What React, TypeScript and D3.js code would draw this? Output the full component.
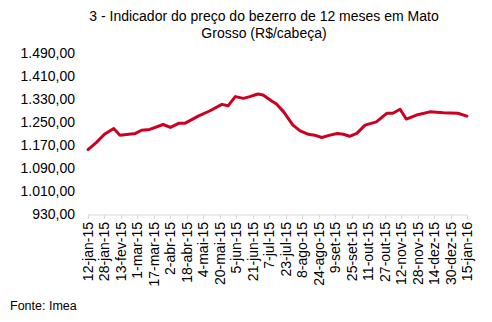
import React from "react";
import * as d3 from "d3";

const dates: string[] = [
  "2015-01-12", "2015-01-20", "2015-01-28", "2015-02-06", "2015-02-12", "2015-02-27",
  "2015-03-05", "2015-03-13", "2015-03-26", "2015-04-02", "2015-04-10", "2015-04-16",
  "2015-04-29", "2015-05-10", "2015-05-22", "2015-05-28", "2015-06-04", "2015-06-12",
  "2015-06-18", "2015-06-26", "2015-07-01", "2015-07-09", "2015-07-14", "2015-07-21",
  "2015-07-30", "2015-08-06", "2015-08-14", "2015-08-20", "2015-08-27", "2015-09-04",
  "2015-09-11", "2015-09-17", "2015-09-23", "2015-09-30", "2015-10-08", "2015-10-19",
  "2015-10-29", "2015-11-04", "2015-11-11", "2015-11-17", "2015-11-27", "2015-12-10",
  "2015-12-23", "2016-01-06", "2016-01-15",
];
const values: number[] = [
  1156, 1180, 1209, 1229, 1206, 1212,
  1223, 1226, 1243, 1233, 1247, 1247,
  1272, 1290, 1313, 1308, 1340, 1334,
  1340, 1349, 1346, 1326, 1314, 1287,
  1241, 1221, 1209, 1206, 1198, 1206,
  1212, 1209, 1202, 1212, 1241, 1252,
  1282, 1282, 1296, 1262, 1276, 1287,
  1284, 1282, 1272,
];
const tickDates: string[] = [
  "2015-01-12", "2015-01-28", "2015-02-13", "2015-03-01", "2015-03-17", "2015-04-02",
  "2015-04-18", "2015-05-04", "2015-05-20", "2015-06-05", "2015-06-21", "2015-07-07",
  "2015-07-23", "2015-08-08", "2015-08-24", "2015-09-09", "2015-09-25", "2015-10-11",
  "2015-10-27", "2015-11-12", "2015-11-28", "2015-12-14", "2015-12-30", "2016-01-15",
];
const tickLabels: string[] = [
  "12-jan-15", "28-jan-15", "13-fev-15", "1-mar-15", "17-mar-15", "2-abr-15",
  "18-abr-15", "4-mai-15", "20-mai-15", "5-jun-15", "21-jun-15", "7-jul-15",
  "23-jul-15", "8-ago-15", "24-ago-15", "9-set-15", "25-set-15", "11-out-15",
  "27-out-15", "12-nov-15", "28-nov-15", "14-dez-15", "30-dez-15", "15-jan-16",
];
const yTicks: number[] = [930, 1010, 1090, 1170, 1250, 1330, 1410, 1490];
const titleLines: string[] = [
  "3 - Indicador do preço do bezerro de 12 meses em Mato",
  "Grosso (R$/cabeça)",
];
const sourceText = "Fonte: Imea";

const parse = d3.timeParse("%Y-%m-%d");
const fmt = (v: number) => {
  const s = v.toFixed(2).replace(".", ",");
  const [i, d] = s.split(",");
  return i.replace(/\B(?=(\d{3})+(?!\d))/g, ".") + "," + d;
};

export default function App() {
  const W = 492, H = 322;
  const x = d3.scaleTime()
    .domain([parse("2015-01-12") as Date, parse("2016-01-15") as Date])
    .range([88, 467]);
  const y = d3.scaleLinear().domain([930, 1490]).range([214.5, 53.5]);
  const pts = dates.map((d, i) => ({ d: parse(d) as Date, v: values[i] }));
  const line = d3.line<{ d: Date; v: number }>()
    .x((p) => x(p.d))
    .y((p) => y(p.v));
  const font = "Arial, 'Liberation Sans', Helvetica, sans-serif";
  return (
    <svg width={W} height={H} style={{ position: "absolute", left: 0, top: 0 }} fontFamily={font}>
      <rect width={W} height={H} fill="#fff" />
      {titleLines.map((t, i) => (
        <text key={i} x={264} y={21 + i * 17} textAnchor="middle" fontSize={14} fill="#000">{t}</text>
      ))}
      {yTicks.map((v) => (
        <text key={v} x={75} y={y(v)} dy="0.35em" textAnchor="end" fontSize={14} fill="#000">{fmt(v)}</text>
      ))}
      <line x1={88} x2={467} y1={215} y2={215} stroke="#d9d9d9" strokeWidth={1} />
      {tickDates.map((t, i) => {
        const tx = Math.round(x(parse(t) as Date)) + 0.5;
        return (
          <g key={t}>
            <line x1={tx} x2={tx} y1={215} y2={219} stroke="#d9d9d9" />
            <text transform={`translate(${tx},222) rotate(-90)`} dy="0.35em" textAnchor="end" fontSize={14} fill="#000">{tickLabels[i]}</text>
          </g>
        );
      })}
      <path d={line(pts) || ""} fill="none" stroke="#CC0020" strokeWidth={3} strokeLinejoin="round" strokeLinecap="round" />
      <text x={10} y={310} fontSize={12.5} fill="#000">{sourceText}</text>
    </svg>
  );
}
